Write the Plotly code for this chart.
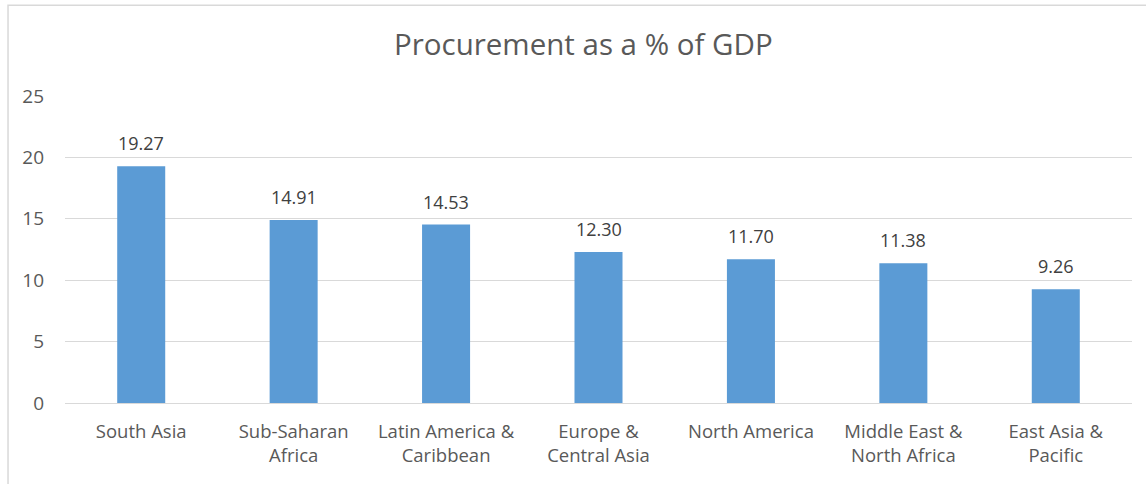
import plotly.graph_objects as go

categories = ["South Asia", "Sub-Saharan<br>Africa", "Latin America &<br>Caribbean",
              "Europe &<br>Central Asia", "North America", "Middle East &<br>North Africa",
              "East Asia &<br>Pacific"]
values = [19.27, 14.91, 14.53, 12.30, 11.70, 11.38, 9.26]
y_ticks = [0, 5, 10, 15, 20, 25]
title_text = "Procurement as a % of GDP"

FONT = "Open Sans"
GREY = "#595959"
GRID = "#D9D9D9"

fig = go.Figure()
fig.add_trace(go.Bar(x=categories, y=values, marker=dict(color="#5B9BD5", line=dict(width=0)),
                     hoverinfo="skip"))

for c, v in zip(categories, values):
    fig.add_annotation(x=c, y=v, text=f"{v:.2f}", showarrow=False, yanchor="bottom",
                       yshift=9, font=dict(family=FONT, size=18, color="#404040"))

fig.update_layout(
    width=1146, height=484,
    margin=dict(l=65, r=14, t=96, b=81),
    paper_bgcolor="white", plot_bgcolor="white",
    bargap=0.685,
    showlegend=False,
    title=dict(text=title_text, x=0.509, xanchor="center", y=1 - 45/484, yanchor="middle",
               font=dict(family=FONT, size=29.5, color=GREY)),
    xaxis=dict(tickfont=dict(family=FONT, size=18.5, color=GREY), showgrid=False,
               showline=False, ticks="", ticklabelstandoff=15),
    yaxis=dict(range=[0, 25], tickvals=y_ticks, tickfont=dict(family=FONT, size=19, color=GREY),
               showgrid=True, gridcolor=GRID, gridwidth=1, zeroline=True, zerolinecolor=GRID,
               zerolinewidth=1, showline=False, ticks="", ticklabelstandoff=20),
    shapes=[dict(type="path", xref="paper", yref="paper",
                 path="M -0.0534,-0.3 L -0.0534,1.296 L 1.2,1.296",
                 line=dict(color=GRID, width=1.5))],
)

fig.write_html("out.html", config={"displayModeBar": False},
               post_script="document.body.style.margin='0px';")
